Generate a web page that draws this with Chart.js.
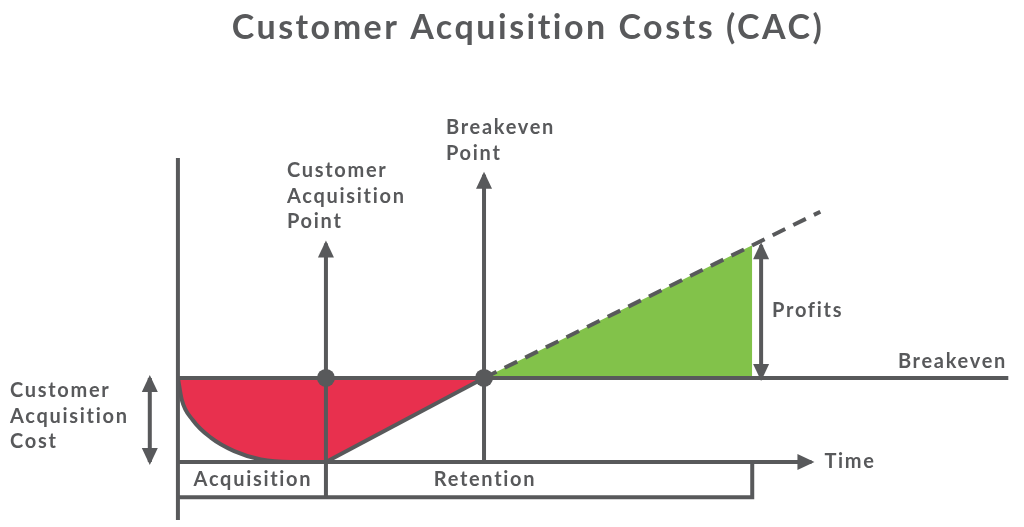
<!DOCTYPE html>
<html>
<head>
<meta charset="utf-8">
<script src="https://cdn.jsdelivr.net/npm/chart.js@4"></script>
<style>
html, body { margin: 0; padding: 0; background: #fff; }
canvas { display: block; }
</style>
</head>
<body>
<canvas id="chart" width="1024" height="527"></canvas>
<script>
// values (time in rough months, value in cost/profit units, 0 = breakeven)
const costCurveT = [0, 0.13, 0.5, 1.11, 1.9, 2.8, 3.8, 5];
const costCurveV = [0, -2.6, -5, -7.1, -8.7, -9.7, -10, -10];
const retentionT = [5, 10.34];
const retentionV = [-10, 0];
const profitT = [10.34, 19.4];
const profitV = [0, 15.8];
const trendT = [10.34, 21.7];
const trendV = [0, 19.8];
const milestoneT = [5, 10.34];   // customer acquisition point, breakeven point
const milestoneV = [0, 0];

const cacValue = -10;
const profitValue = 15.8;
const boxBottom = -14.2;
const timeAxisEnd = 21.4;
const breakevenEnd = 28.05;
const axisV = [-16.9, 26.2];
const acqArrowTop = 16;
const beArrowTop = 24.2;
const cacArrowT = -0.95;
const profitArrowT = 19.7;

const sectionLabels = ['Acquisition', 'Retention'];
const title = 'Customer Acquisition Costs (CAC)';

const GREY = '#58595b';
const RED = '#e8304e';
const GREEN = '#82c24a';
const FONT = 'Lato, "Open Sans", sans-serif';

const pts = (ts, vs) => ts.map((t, i) => ({ x: t, y: vs[i] }));

const line = (data, extra) => Object.assign({
  data,
  showLine: true,
  borderColor: GREY,
  borderWidth: 4,
  borderCapStyle: 'butt',
  pointRadius: 0,
  fill: false,
  tension: 0,
  order: 2
}, extra);

const datasets = [
  line(pts(costCurveT, costCurveV), { fill: 'origin', backgroundColor: RED, cubicInterpolationMode: 'monotone', order: 3 }),
  line(pts(retentionT, retentionV), { fill: 'origin', backgroundColor: RED, order: 3 }),
  line(pts(profitT, profitV), { fill: 'origin', backgroundColor: GREEN, borderWidth: 0, order: 4 }),
  line(pts(trendT, trendV), { borderDash: [14, 9] }),
  line(pts([0, 0], axisV)),
  line(pts([0, breakevenEnd], [0, 0])),
  line(pts([0, timeAxisEnd], [cacValue, cacValue]), { arrow: 'end' }),
  line(pts([0, profitT[1], profitT[1]], [boxBottom, boxBottom, cacValue])),
  line(pts([milestoneT[0], milestoneT[0]], [boxBottom, acqArrowTop]), { arrow: 'end' }),
  line(pts([milestoneT[1], milestoneT[1]], [cacValue, beArrowTop]), { arrow: 'end' }),
  line(pts([cacArrowT, cacArrowT], [0, cacValue]), { arrow: 'both' }),
  line(pts([profitArrowT, profitArrowT], [0, profitValue]), { arrow: 'both' }),
  { data: pts(milestoneT, milestoneV), showLine: false, pointRadius: 9, pointBackgroundColor: GREY, pointBorderWidth: 0, order: 0 }
];

const arrowHeads = {
  id: 'arrowHeads',
  afterDatasetsDraw(chart) {
    const ctx = chart.ctx;
    const head = (tip, from) => {
      const a = Math.atan2(tip.y - from.y, tip.x - from.x);
      ctx.save();
      ctx.translate(tip.x, tip.y);
      ctx.rotate(a);
      ctx.beginPath();
      ctx.moveTo(3, 0);
      ctx.lineTo(-14, -8);
      ctx.lineTo(-14, 8);
      ctx.closePath();
      ctx.fillStyle = GREY;
      ctx.fill();
      ctx.restore();
    };
    chart.data.datasets.forEach((ds, i) => {
      if (!ds.arrow) return;
      const p = chart.getDatasetMeta(i).data;
      const n = p.length;
      head(p[n - 1], p[n - 2]);
      if (ds.arrow === 'both') head(p[0], p[1]);
    });
  }
};

const labels = {
  id: 'labels',
  afterDraw(chart) {
    const ctx = chart.ctx;
    const x = chart.scales.x, y = chart.scales.y;
    ctx.save();
    ctx.fillStyle = GREY;
    ctx.textBaseline = 'middle';

    ctx.font = '700 34px ' + FONT;
    ctx.letterSpacing = '2.5px';
    ctx.textAlign = 'center';
    ctx.fillText(title, 528, 28);

    ctx.font = '700 20px ' + FONT;
    ctx.letterSpacing = '1.7px';
    const block = (lines, px, py, align) => {
      ctx.textAlign = align;
      lines.forEach((s, i) => ctx.fillText(s, px, py + i * 25.5));
    };
    block(['Customer', 'Acquisition', 'Cost'], 10, 391, 'left');
    block(['Customer', 'Acquisition', 'Point'], 287, 171, 'left');
    block(['Breakeven', 'Point'], 446, 128, 'left');
    block(['Profits'], x.getPixelForValue(profitArrowT) + 11, y.getPixelForValue(profitValue / 2) - 1, 'left');
    block(['Breakeven'], 1007, y.getPixelForValue(0) - 16, 'right');
    block(['Time'], x.getPixelForValue(timeAxisEnd) + 13, y.getPixelForValue(cacValue), 'left');

    const midY = (y.getPixelForValue(cacValue) + y.getPixelForValue(boxBottom)) / 2;
    block([sectionLabels[0]], (x.getPixelForValue(0) + x.getPixelForValue(milestoneT[0])) / 2 + 1, midY, 'center');
    block([sectionLabels[1]], x.getPixelForValue(milestoneT[1]) + 1, midY, 'center');
    ctx.restore();
  }
};

new Chart(document.getElementById('chart'), {
  type: 'line',
  data: { datasets },
  options: {
    responsive: false,
    animation: false,
    events: [],
    layout: { padding: 0, autoPadding: false },
    plugins: { legend: { display: false }, tooltip: { enabled: false } },
    scales: {
      x: { type: 'linear', min: -6.01, max: 28.58, display: false },
      y: { type: 'linear', min: -17.74, max: 45, display: false }
    }
  },
  plugins: [arrowHeads, labels]
});
</script>
</body>
</html>
